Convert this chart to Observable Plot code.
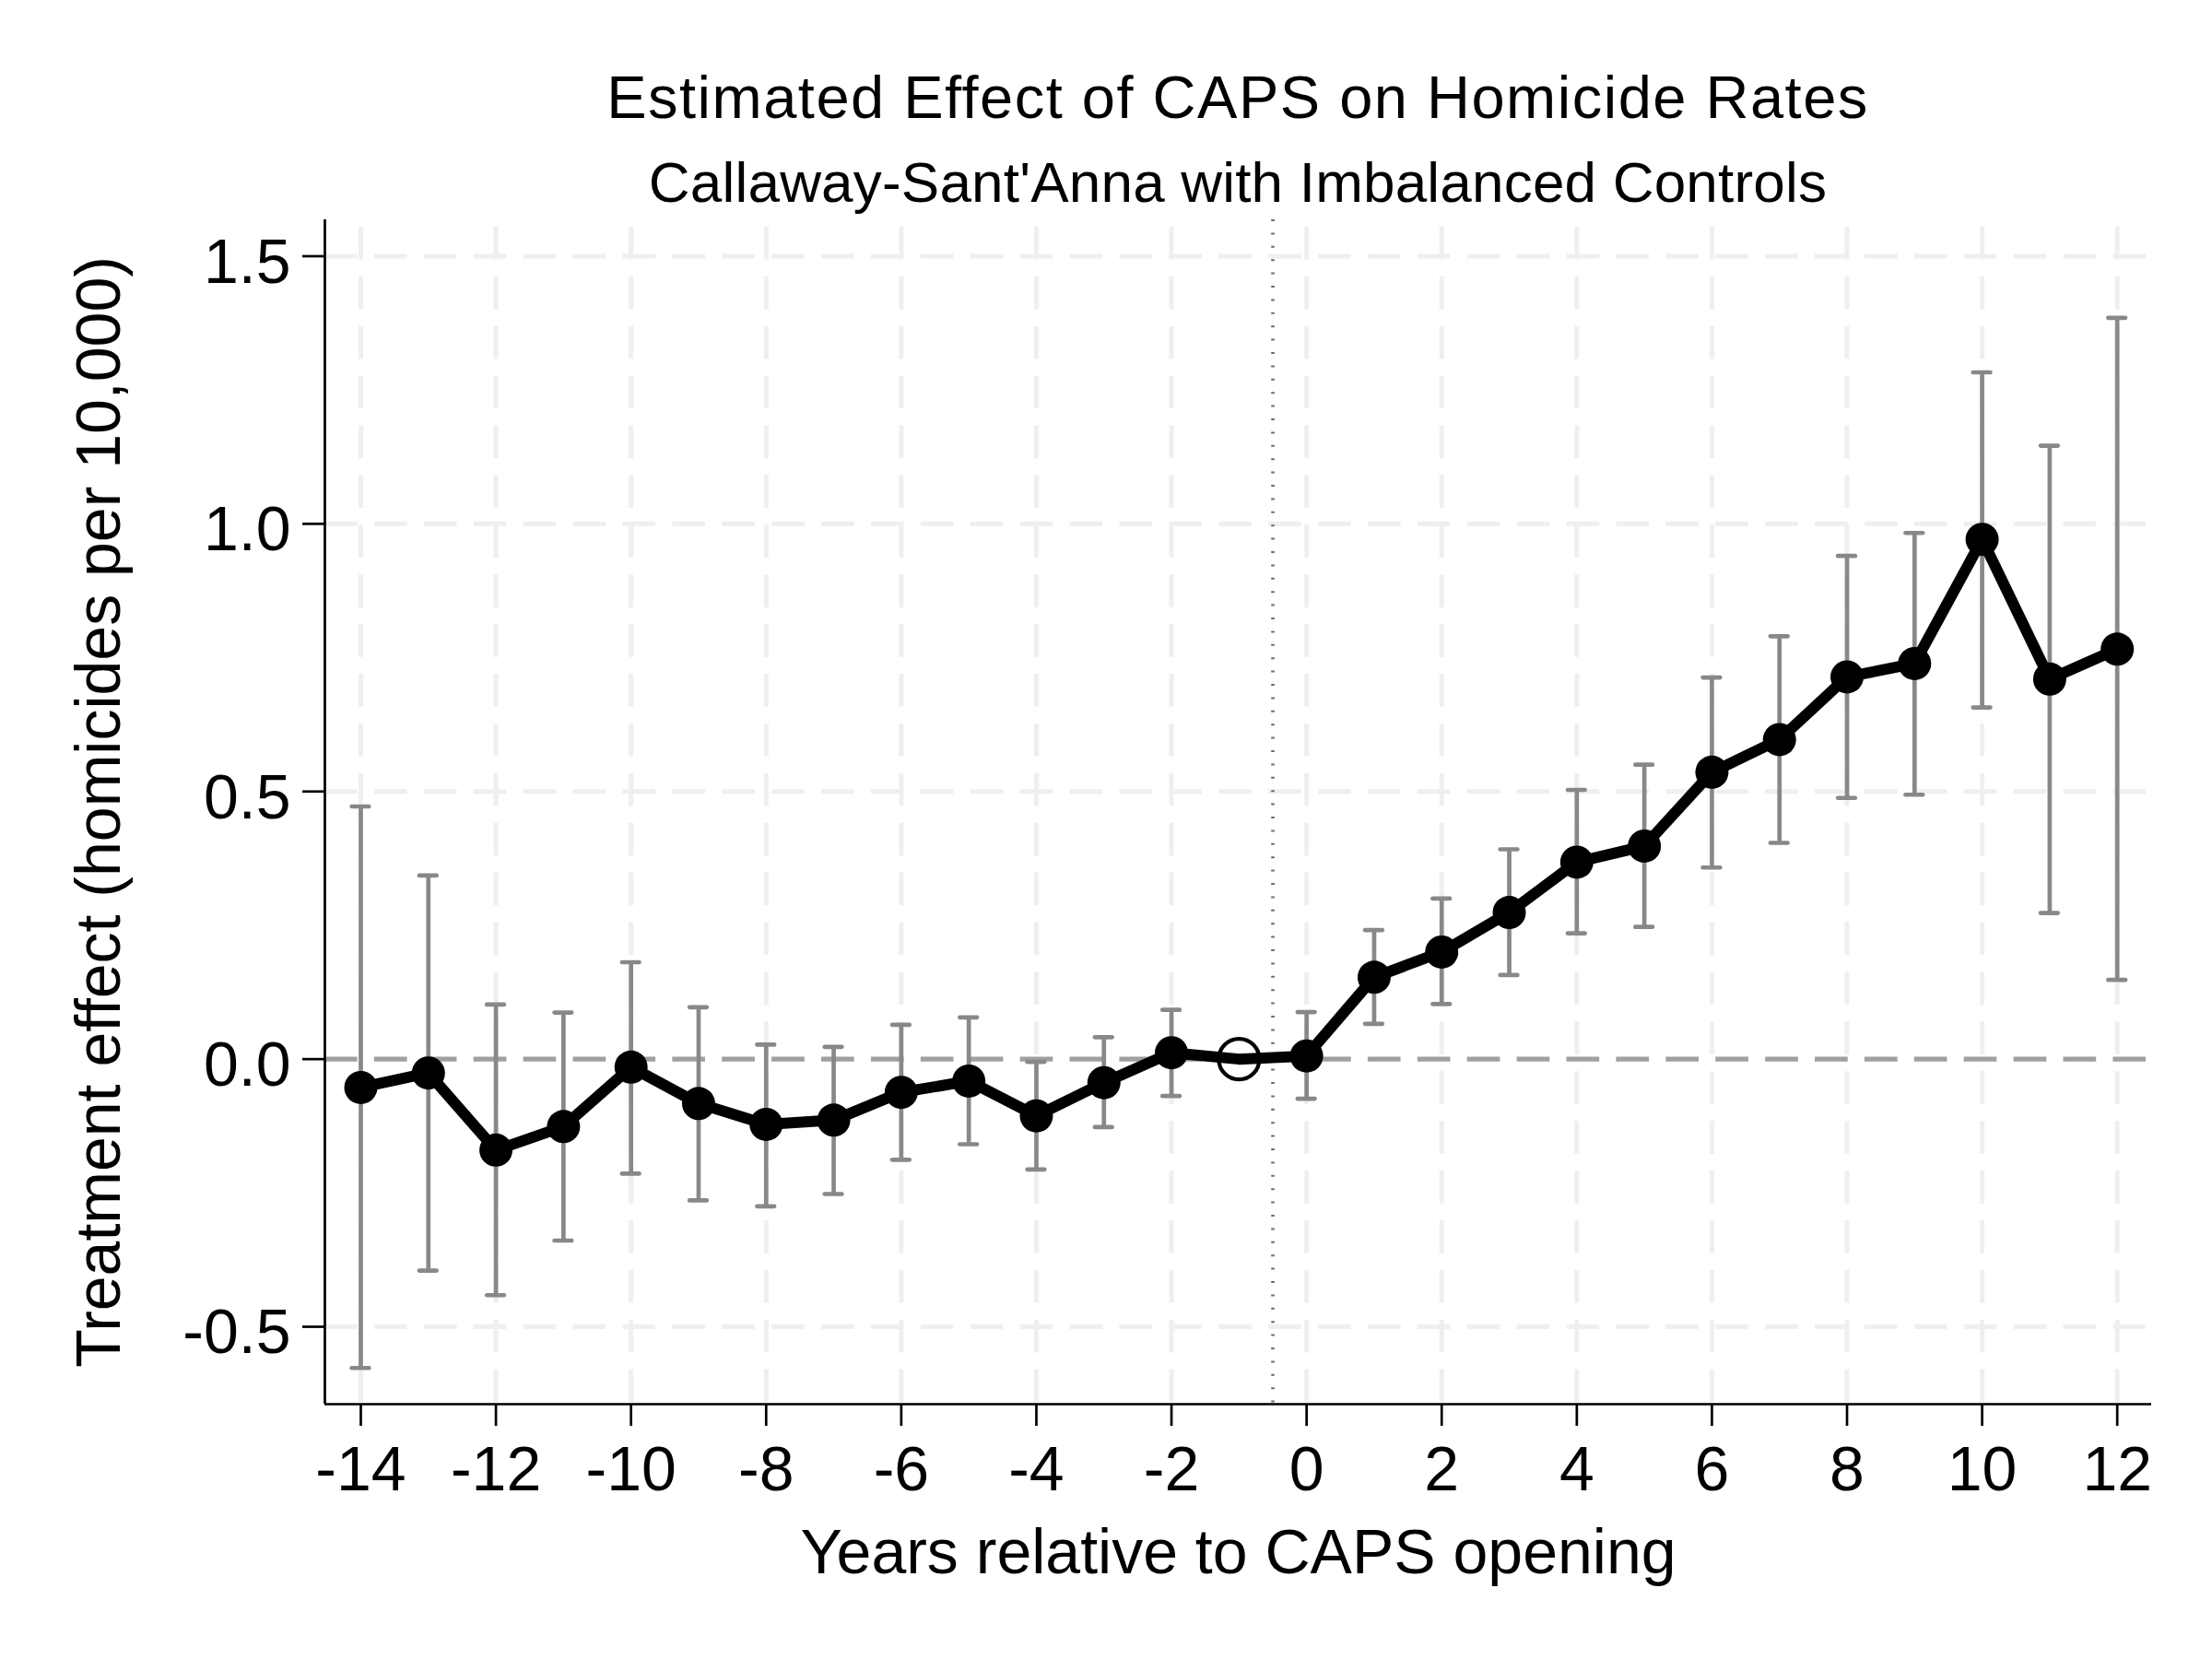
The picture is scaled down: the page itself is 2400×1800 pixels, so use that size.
<!DOCTYPE html>
<html>
<head>
<meta charset="utf-8">
<script src="https://cdn.jsdelivr.net/npm/d3@7"></script>
<script src="https://cdn.jsdelivr.net/npm/@observablehq/plot@0.6"></script>
<style>
  html, body { margin: 0; padding: 0; background: #ffffff; }
  #chart { width: 2400px; background: #ffffff; font-family: "Liberation Sans", Arial, Helvetica, sans-serif; color: #000; }
  .title { margin-left: 352px; width: 1982px; text-align: center; white-space: nowrap; }
  #title { padding-top: 74px; height: 64px; font-size: 65px; line-height: 64px; letter-spacing: 1.5px; }
  #subtitle { margin-top: 29px; height: 62px; font-size: 62px; line-height: 62px; letter-spacing: 0.2px; }
</style>
</head>
<body>
<div id="chart">
  <div id="title" class="title"></div>
  <div id="subtitle" class="title"></div>
</div>
<script>
// ---- data ----
const titleText = "Estimated Effect of CAPS on Homicide Rates";
const subtitleText = "Callaway-Sant'Anna with Imbalanced Controls";
const xLabel = "Years relative to CAPS opening";
const yLabel = "Treatment effect (homicides per 10,000)";

const years = [-14, -13, -12, -11, -10, -9, -8, -7, -6, -5, -4, -3, -2, -1, 0, 1, 2, 3, 4, 5, 6, 7, 8, 9, 10, 11, 12];
const estimates = [-0.053, -0.026, -0.170, -0.126, -0.015, -0.083, -0.122, -0.114, -0.062, -0.041, -0.106, -0.044, 0.012, 0.000, 0.006, 0.153, 0.200, 0.274, 0.368, 0.398, 0.536, 0.597, 0.714, 0.739, 0.971, 0.710, 0.766];
const lowerCI = [-0.577, -0.395, -0.441, -0.339, -0.214, -0.264, -0.275, -0.252, -0.188, -0.159, -0.206, -0.127, -0.069, null, -0.074, 0.066, 0.103, 0.157, 0.235, 0.247, 0.358, 0.404, 0.488, 0.494, 0.657, 0.273, 0.148];
const upperCI = [0.472, 0.343, 0.102, 0.087, 0.181, 0.097, 0.027, 0.023, 0.064, 0.078, -0.005, 0.041, 0.092, null, 0.088, 0.241, 0.300, 0.392, 0.503, 0.550, 0.713, 0.790, 0.940, 0.983, 1.283, 1.146, 1.385];
const referenceYear = -1;
const treatmentLine = -0.5;

const xTicks = [-14, -12, -10, -8, -6, -4, -2, 0, 2, 4, 6, 8, 10, 12];
const yTicks = [-0.5, 0, 0.5, 1.0, 1.5];

// ---- layout / style constants ----
const xDomain = [-14.532, 12.509];
const yDomain = [-0.6446, 1.568];
const capHalf = 0.127; // half cap width in x units

const rows = years.map((t, i) => ({t, est: estimates[i], lo: lowerCI[i], hi: upperCI[i]}));
const withCI = rows.filter(d => d.lo != null && d.hi != null);
const filled = rows.filter(d => d.t !== referenceYear);
const hollow = rows.filter(d => d.t === referenceYear);

document.getElementById("title").textContent = titleText;
document.getElementById("subtitle").textContent = subtitleText;

const dash = "35.7,18.2";

const chart = Plot.plot({
  width: 2400,
  height: 1571,
  marginTop: 9,
  marginRight: 66,
  marginBottom: 277,
  marginLeft: 352,
  style: {
    fontFamily: "'Liberation Sans', Arial, Helvetica, sans-serif",
    fontSize: "68px",
    color: "#000",
    background: "#ffffff",
    overflow: "visible"
  },
  x: {domain: xDomain, label: null},
  y: {domain: yDomain, label: null},
  marks: [
    Plot.gridX({ticks: xTicks, stroke: "#efefef", strokeOpacity: 1, strokeWidth: 5, strokeDasharray: dash, strokeDashoffset: 46}),
    Plot.gridY({ticks: yTicks.filter(v => v !== 0), stroke: "#efefef", strokeOpacity: 1, strokeWidth: 5, strokeDasharray: dash}),
    Plot.ruleY([0], {stroke: "#a0a0a0", strokeWidth: 5.3, strokeDasharray: dash}),
    Plot.ruleX([treatmentLine], {stroke: "#666666", strokeWidth: 3.5, strokeDasharray: "2,12.4"}),
    // confidence intervals
    Plot.ruleX(withCI, {x: "t", y1: "lo", y2: "hi", stroke: "#888888", strokeWidth: 4.7}),
    Plot.ruleY(withCI, {y: "hi", x1: d => d.t - capHalf, x2: d => d.t + capHalf, stroke: "#888888", strokeWidth: 4.7, strokeLinecap: "round"}),
    Plot.ruleY(withCI, {y: "lo", x1: d => d.t - capHalf, x2: d => d.t + capHalf, stroke: "#888888", strokeWidth: 4.7, strokeLinecap: "round"}),
    // estimates
    Plot.line(rows, {x: "t", y: "est", stroke: "#000", strokeWidth: 12, strokeLinejoin: "round"}),
    Plot.dot(filled, {x: "t", y: "est", r: 18, fill: "#000", stroke: "none"}),
    Plot.dot(hollow, {x: "t", y: "est", r: 22, fill: "none", stroke: "#000", strokeWidth: 4.2}),
    // axis lines
    Plot.ruleX([xDomain[0]], {stroke: "#000", strokeWidth: 2.7}),
    Plot.ruleY([yDomain[0]], {stroke: "#000", strokeWidth: 2.7}),
    // axes
    Plot.axisX({ticks: xTicks, tickSize: 24, tickPadding: 21, strokeWidth: 2.7, tickFormat: d => String(d), label: null}),
    Plot.axisY({ticks: yTicks, tickSize: 24, strokeWidth: 2.7, fill: "none", label: null}),
    Plot.axisY({ticks: yTicks, tickSize: 0, tickPadding: 37, dy: 7, tickFormat: d => d.toFixed(1), label: null}),
    // axis titles
    Plot.text([xLabel], {frameAnchor: "bottom", lineAnchor: "top", textAnchor: "middle", dy: 135.7, fontSize: 68, fill: "#000"}),
    Plot.text([yLabel], {frameAnchor: "left", rotate: -90, lineAnchor: "top", textAnchor: "middle", dx: -270.3, fontSize: 68, fill: "#000"})
  ]
});

document.getElementById("chart").appendChild(chart);
</script>
</body>
</html>
